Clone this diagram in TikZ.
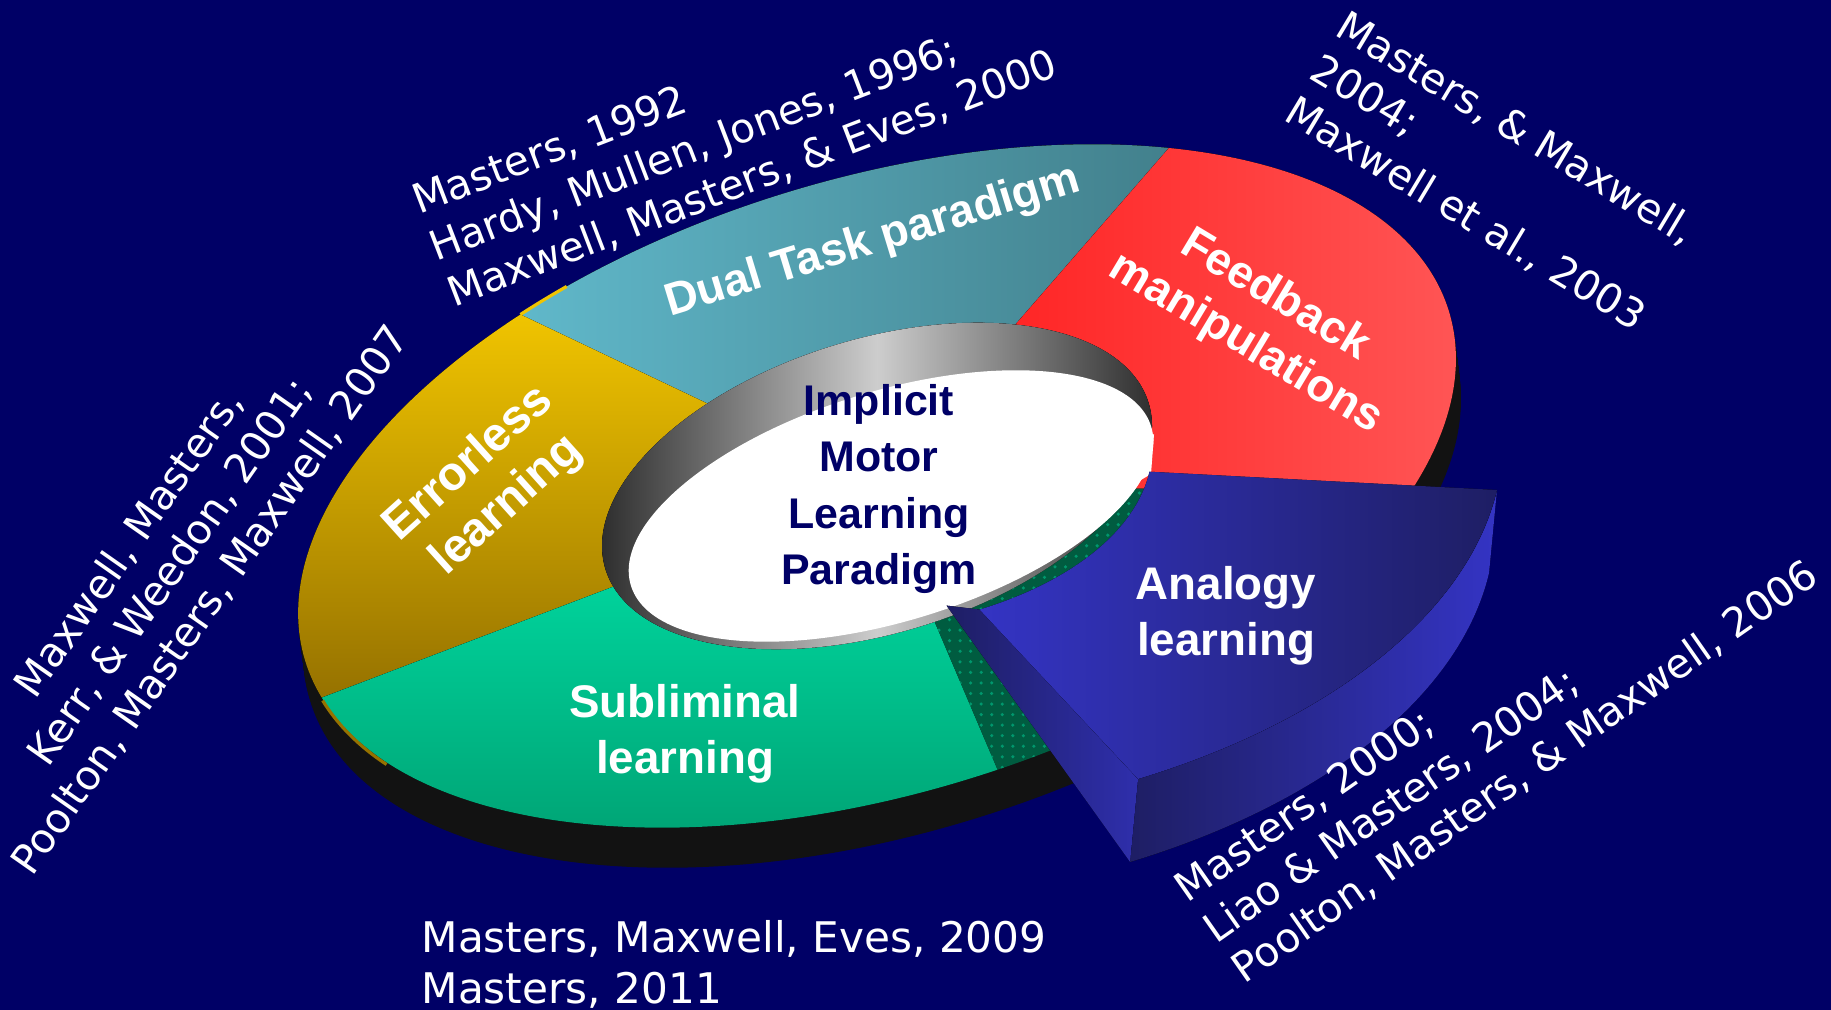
\documentclass[tikz,border=0pt]{standalone}
\usepackage{fontspec}
\setmainfont{DejaVu Sans}
\newfontfamily\labelfont{Liberation Sans}
\usetikzlibrary{calc,patterns}
\definecolor{navy}{RGB}{0,0,102}
\definecolor{rim}{RGB}{18,18,18}
\definecolor{goldtop}{RGB}{240,196,0}
\definecolor{goldbot}{RGB}{150,114,0}
\definecolor{tealtop}{RGB}{96,184,202}
\definecolor{tealbot}{RGB}{66,128,140}
\definecolor{redtop}{RGB}{255,38,38}
\definecolor{redbot}{RGB}{255,92,92}
\definecolor{greentop}{RGB}{0,210,155}
\definecolor{greenbot}{RGB}{0,158,112}
\definecolor{gapgreen}{RGB}{0,92,64}
\definecolor{bluelight}{RGB}{52,52,196}
\definecolor{bluedark}{RGB}{30,30,100}
\definecolor{walldark}{RGB}{35,35,35}
\definecolor{walllight}{RGB}{205,205,205}

% ring slice between the hole and the outer rim
\newcommand{\piesector}[3]{%
  \fill[#3] (#1:{\ra} and {\rb}) arc[start angle=#1, end angle=#2, x radius=\ra, y radius=\rb]
    -- (#2:{\ia} and {\ib}) arc[start angle=#2, end angle=#1, x radius=\ia, y radius=\ib] -- cycle;}

\begin{document}
\begin{tikzpicture}[x=0.01cm, y=0.01cm,
    cite/.style={text=white, inner sep=0pt, font=\fontsize{11.6}{14.1}\selectfont},
    slice/.style={text=white, inner sep=0pt, align=center, font=\labelfont\bfseries\fontsize{13}{16}\selectfont},
    disc/.style={shift={(877,524)}, rotate=17},
    wedge/.style={shift={(1149,539)}, cm={1.2357,-0.05852,-0.5461,1.1211,(0,0)}, shift={(-253.9,2)}, rotate=17}]
  \def\ra{598} \def\rb{307}
  \def\ia{284} \def\ib{147}
  \fill[navy] (0,0) rectangle (1831,1010);
  \useasboundingbox (0,0) rectangle (1831,1010);

  % side of the disc
  \foreach \d in {0,2,...,40}
    \fill[rim, shift={(877+\d/8,524-\d)}, rotate=17] (0,0) ellipse[x radius=\ra, y radius=\rb];

  \begin{scope}[disc]
    \piesector{50.8}{119.1}{left color=tealtop, right color=tealbot}
    \piesector{119.1}{187.5}{top color=goldtop, bottom color=goldbot}
    \piesector{187.5}{273.1}{top color=greentop, bottom color=greenbot}
    \piesector{-31.5}{50.8}{left color=redtop, right color=redbot}
    \piesector{273.1}{328.5}{gapgreen}
    \piesector{273.1}{328.5}{pattern=dots, pattern color=greentop!50!gapgreen}
    \draw[goldtop, line width=0.9pt] (119.1:{\ra} and {\rb})
      arc[start angle=119.1, end angle=113.5, x radius=\ra, y radius=\rb];
    \draw[goldbot, line width=0.9pt, shift={(0,-3)}] (187.5:{\ra} and {\rb})
      arc[start angle=187.5, end angle=203, x radius=\ra, y radius=\rb];
    % hole
    \fill[left color=walldark, right color=walldark, middle color=walllight]
      (0,0) ellipse[x radius=\ia, y radius=\ib];
  \end{scope}
  \fill[white, shift={(891,504)}, rotate=17] (0,0) ellipse[x radius=272, y radius=115];
  \fill[white] (1154,576) -- (1151,536) -- (1040,470) -- cycle;

  % pulled out slice
  \begin{scope}[wedge]
    \coordinate (wi) at (273.1:{\ia} and {\ib});
    \coordinate (wf) at (273.1:{\ra} and {\rb});
    \coordinate (wb) at ([shift={(-60.6,-61.1)}]273.1:{\ra} and {\rb});
    \fill[left color=bluedark, right color=bluelight]
      (273.1:{\ra} and {\rb}) arc[start angle=273.1, end angle=328.5, x radius=\ra, y radius=\rb]
      -- ([shift={(-60.6,-61.1)}]328.5:{\ra} and {\rb})
      arc[start angle=328.5, end angle=273.1, x radius=\ra, y radius=\rb] -- cycle;
  \end{scope}
  \fill[left color=bluedark, right color=bluelight!75!bluedark]
    ($(wi)+(-33,4)$) -- (wi) -- (wf) -- (wb) -- cycle;
  \begin{scope}[wedge]
    \piesector{273.1}{328.5}{left color=bluelight, right color=bluedark}
  \end{scope}

  \node[slice, rotate=17] (dual) at (873,768) {Dual Task paradigm};
  \node[slice, rotate=42, font=\labelfont\bfseries\fontsize{13.5}{16}\selectfont] (errorless) at (488,525)
    {Errorless\\learning};
  \node[slice, rotate=-31] (feedback) at (1260,690) {Feedback\\manipulations};
  \node[slice] (analogy) at (1226,394) {Analogy\\learning};
  \node[slice] (subliminal) at (685,276) {Subliminal\\learning};
  \node[slice, text=navy, font=\labelfont\bfseries\fontsize{12.2}{16}\selectfont] (implicit) at (879,521)
    {Implicit\\Motor\\Learning\\Paradigm};

  \node[cite, align=left, rotate=21] (refdual) at (735,877)
    {Masters, 1992\\Hardy, Mullen, Jones, 1996;\\Maxwell, Masters, \& Eves, 2000};
  \node[cite, align=left, rotate=-31] (reffeed) at (1491,838)
    {Masters, \& Maxwell,\\2004;\\Maxwell et al., 2003};
  \node[cite, align=center, rotate=55] (referr) at (170,438)
    {Maxwell, Masters,\\Kerr, \& Weedon, 2001;\\Poolton, Masters, Maxwell, 2007};
  \node[cite, align=left, rotate=35] (refanal) at (1497,278)
    {Masters, 2000;\\Liao \& Masters, 2004;\\Poolton, Masters, \& Maxwell, 2006};
  \node[cite, align=left, anchor=north west, font=\fontsize{12}{14.3}\selectfont] (refsub) at (421,90)
    {Masters, Maxwell, Eves, 2009\\Masters, 2011};
\end{tikzpicture}
\end{document}
